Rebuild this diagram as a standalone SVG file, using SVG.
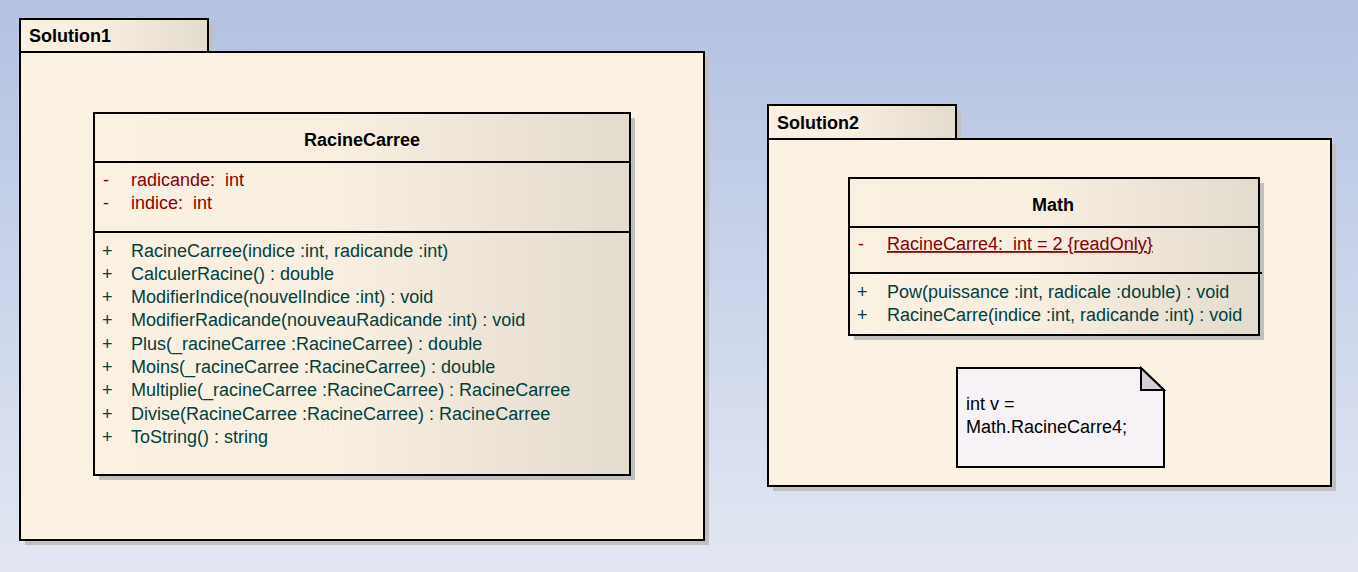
<svg xmlns="http://www.w3.org/2000/svg" width="1358" height="572" viewBox="0 0 1358 572">
<defs>
<linearGradient id="bg" x1="0" y1="0" x2="0" y2="1">
<stop offset="0" stop-color="#b3c2e2"/>
<stop offset="1" stop-color="#e3e7f3"/>
</linearGradient>
<linearGradient id="cls" x1="0" y1="0" x2="1" y2="0">
<stop offset="0" stop-color="#fbf1e3"/>
<stop offset="0.45" stop-color="#f9efe1"/>
<stop offset="1" stop-color="#e3dbce"/>
</linearGradient>
<linearGradient id="tab" x1="0" y1="0" x2="1" y2="0">
<stop offset="0" stop-color="#fbf1e3"/>
<stop offset="0.4" stop-color="#f9efe1"/>
<stop offset="1" stop-color="#e3dbce"/>
</linearGradient>
</defs>
<style>
.shadow{fill:#c0c0c0;stroke:none}
.pkg{fill:#fbf2e4;stroke:#000;stroke-width:2}
.tab{fill:url(#tab);stroke:#000;stroke-width:2}
.cls{fill:url(#cls);stroke:#000;stroke-width:2}
.sep{stroke:#000;stroke-width:2}
text{font-family:"Liberation Sans",Arial,sans-serif;font-size:18px;white-space:pre}
.title{font-weight:bold;fill:#000}
.name{font-weight:bold;fill:#000;text-anchor:middle}
.attr{fill:#8b0000}
.op{fill:#004040}
.note{fill:#f6f2f6;stroke:#000;stroke-width:2}
.fold{fill:#d4d0d8;stroke:#000;stroke-width:2;stroke-linejoin:miter}
.ntext{fill:#000}
</style>
<rect x="0" y="0" width="1358" height="572" fill="url(#bg)"/>

<g id="Solution1">
<rect class="shadow" x="25" y="57" width="684" height="488"/>
<rect class="shadow" x="208" y="24" width="5" height="28"/>
<rect class="pkg" x="20" y="52" width="684" height="488"/>
<rect class="tab" x="20" y="19" width="188" height="33"/>
<text class="title" x="29" y="42">Solution1</text>
</g>

<g id="RacineCarree">
<rect class="shadow" x="99" y="118" width="536" height="362"/>
<rect class="cls" x="94" y="113" width="536" height="362"/>
<line class="sep" x1="94" y1="162" x2="630" y2="162"/>
<line class="sep" x1="94" y1="232" x2="630" y2="232"/>
<text class="name" x="362" y="146">RacineCarree</text>
<text class="attr" x="103" y="186">-</text><text class="attr" x="131" y="186" xml:space="preserve">radicande:  int</text>
<text class="attr" x="103" y="209">-</text><text class="attr" x="131" y="209" xml:space="preserve">indice:  int</text>
<g class="op">
<text x="102" y="256.5">+</text><text x="131" y="256.5">RacineCarree(indice :int, radicande :int)</text>
<text x="102" y="279.8">+</text><text x="131" y="279.8">CalculerRacine() : double</text>
<text x="102" y="303.1">+</text><text x="131" y="303.1">ModifierIndice(nouvelIndice :int) : void</text>
<text x="102" y="326.4">+</text><text x="131" y="326.4">ModifierRadicande(nouveauRadicande :int) : void</text>
<text x="102" y="349.7">+</text><text x="131" y="349.7">Plus(_racineCarree :RacineCarree) : double</text>
<text x="102" y="373">+</text><text x="131" y="373">Moins(_racineCarree :RacineCarree) : double</text>
<text x="102" y="396.3">+</text><text x="131" y="396.3">Multiplie(_racineCarree :RacineCarree) : RacineCarree</text>
<text x="102" y="419.6">+</text><text x="131" y="419.6">Divise(RacineCarree :RacineCarree) : RacineCarree</text>
<text x="102" y="442.9">+</text><text x="131" y="442.9">ToString() : string</text>
</g>
</g>

<g id="Solution2">
<rect class="shadow" x="773" y="144" width="563" height="347"/>
<rect class="shadow" x="956" y="110" width="5" height="29"/>
<rect class="pkg" x="768" y="139" width="563" height="347"/>
<rect class="tab" x="768" y="105" width="188" height="34"/>
<text class="title" x="777" y="129">Solution2</text>
</g>

<g id="Math">
<rect class="shadow" x="854" y="183" width="410" height="157"/>
<rect class="cls" x="849" y="178" width="410" height="157"/>
<line class="sep" x1="849" y1="227" x2="1259" y2="227"/>
<line class="sep" x1="849" y1="273" x2="1262" y2="273"/>
<text class="name" x="1053" y="211">Math</text>
<text class="attr" x="858" y="250">-</text><text class="attr" x="887" y="250" text-decoration="underline" xml:space="preserve">RacineCarre4:  int = 2 {readOnly}</text>
<g class="op">
<text x="857" y="297.5">+</text><text x="887" y="297.5">Pow(puissance :int, radicale :double) : void</text>
<text x="857" y="320.8">+</text><text x="887" y="320.8">RacineCarre(indice :int, radicande :int) : void</text>
</g>
</g>

<g id="Note">
<polygon class="note" points="957,368 1141,368 1164,390 1164,467 957,467"/>
<polygon class="fold" points="1141,368 1141,390 1164,390"/>
<text class="ntext" x="966" y="410">int v =</text>
<text class="ntext" x="966" y="433">Math.RacineCarre4;</text>
</g>

<g id="connectors"></g>
</svg>
